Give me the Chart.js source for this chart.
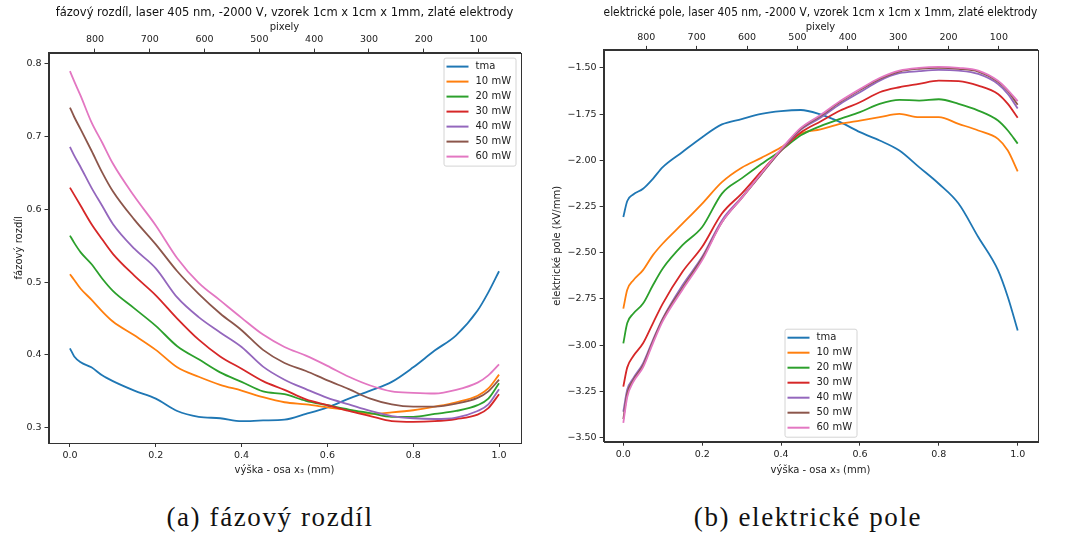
<!DOCTYPE html>
<html>
<head>
<meta charset="utf-8">
<script src="https://cdn.jsdelivr.net/npm/chart.js@4.4.0/dist/chart.umd.min.js"></script>
<style>
  html, body { margin: 0; padding: 0; background: #fff; }
  body { width: 1072px; height: 533px; position: relative; overflow: hidden; }
  canvas { position: absolute; top: 0; }
  #phase { left: 0; }
  #field { left: 536px; }
  .cap {
    position: absolute; top: 502px; line-height: 30px;
    font-family: "Liberation Serif", "Times New Roman", serif;
    font-size: 27px; letter-spacing: 1.6px; color: #111;
    white-space: nowrap; transform: translateX(-50%);
  }
</style>
</head>
<body>
<canvas id="phase" width="536" height="480"></canvas>
<canvas id="field" width="536" height="480"></canvas>
<div class="cap" style="left:270px">(a) fázový rozdíl</div>
<div class="cap" style="left:808px">(b) elektrické pole</div>
<script>
// height along x3 (mm)
var heights = [0, 0.01, 0.025, 0.05, 0.075, 0.1, 0.15, 0.2, 0.25, 0.3, 0.35, 0.4, 0.45,
  0.5, 0.55, 0.6, 0.65, 0.7, 0.75, 0.8, 0.85, 0.9, 0.95, 0.975, 1.0];

var seriesNames = ['tma', '10 mW', '20 mW', '30 mW', '40 mW', '50 mW', '60 mW'];
var seriesColors = ['#1f77b4', '#ff7f0e', '#2ca02c', '#d62728', '#9467bd', '#8c564b', '#e377c2'];

// fázový rozdíl
var phaseTma = [0.409, 0.398, 0.390, 0.383, 0.372, 0.364, 0.351, 0.340, 0.323, 0.315, 0.313, 0.309, 0.310,
  0.311, 0.319, 0.328, 0.340, 0.351, 0.363, 0.383, 0.406, 0.427, 0.461, 0.486, 0.515];
var phase10 = [0.511, 0.503, 0.491, 0.476, 0.460, 0.446, 0.427, 0.407, 0.383, 0.370, 0.359, 0.351, 0.342,
  0.335, 0.332, 0.328, 0.324, 0.319, 0.321, 0.324, 0.329, 0.335, 0.344, 0.354, 0.373];
var phase20 = [0.564, 0.554, 0.541, 0.525, 0.505, 0.488, 0.464, 0.440, 0.412, 0.394, 0.376, 0.363, 0.350,
  0.346, 0.337, 0.331, 0.325, 0.320, 0.315, 0.315, 0.319, 0.323, 0.331, 0.340, 0.361];
var phase30 = [0.630, 0.620, 0.605, 0.580, 0.559, 0.539, 0.509, 0.482, 0.450, 0.421, 0.398, 0.381, 0.364,
  0.352, 0.339, 0.331, 0.323, 0.316, 0.309, 0.308, 0.309, 0.312, 0.318, 0.327, 0.346];
var phase40 = [0.686, 0.674, 0.658, 0.630, 0.605, 0.580, 0.546, 0.519, 0.479, 0.452, 0.431, 0.411, 0.384,
  0.366, 0.353, 0.341, 0.332, 0.323, 0.316, 0.313, 0.312, 0.314, 0.323, 0.332, 0.353];
var phase50 = [0.740, 0.727, 0.710, 0.681, 0.651, 0.625, 0.586, 0.552, 0.515, 0.484, 0.457, 0.434, 0.407,
  0.389, 0.378, 0.365, 0.353, 0.340, 0.332, 0.329, 0.329, 0.333, 0.341, 0.350, 0.366];
var phase60 = [0.790, 0.776, 0.756, 0.720, 0.692, 0.663, 0.618, 0.578, 0.533, 0.499, 0.475, 0.451, 0.428,
  0.411, 0.399, 0.385, 0.370, 0.358, 0.350, 0.348, 0.347, 0.352, 0.362, 0.372, 0.387];

// elektrické pole (kV/mm)
var fieldTma = [-2.307, -2.22, -2.185, -2.154, -2.10, -2.037, -1.955, -1.875, -1.806, -1.777, -1.749, -1.734, -1.728,
  -1.752, -1.794, -1.848, -1.893, -1.947, -2.037, -2.127, -2.234, -2.415, -2.594, -2.739, -2.92];
var field10 = [-2.802, -2.70, -2.65, -2.594, -2.513, -2.45, -2.343, -2.234, -2.118, -2.04, -1.987, -1.93, -1.856,
  -1.833, -1.803, -1.785, -1.767, -1.749, -1.767, -1.767, -1.803, -1.839, -1.884, -1.947, -2.06];
var field20 = [-2.99, -2.88, -2.83, -2.775, -2.676, -2.585, -2.459, -2.361, -2.18, -2.098, -2.02, -1.947, -1.865,
  -1.815, -1.776, -1.74, -1.695, -1.673, -1.677, -1.670, -1.695, -1.731, -1.785, -1.839, -1.91];
var field30 = [-3.224, -3.12, -3.06, -2.99, -2.882, -2.775, -2.603, -2.468, -2.288, -2.18, -2.06, -1.947, -1.85,
  -1.79, -1.731, -1.686, -1.632, -1.605, -1.587, -1.569, -1.572, -1.596, -1.641, -1.695, -1.77];
var field40 = [-3.36, -3.24, -3.18, -3.098, -2.972, -2.855, -2.676, -2.522, -2.325, -2.20, -2.073, -1.947, -1.835,
  -1.77, -1.695, -1.632, -1.569, -1.529, -1.518, -1.511, -1.515, -1.533, -1.587, -1.641, -1.72];
var field50 = [-3.40, -3.26, -3.19, -3.11, -2.98, -2.86, -2.69, -2.53, -2.335, -2.205, -2.075, -1.945, -1.83,
  -1.76, -1.685, -1.62, -1.56, -1.52, -1.505, -1.50, -1.505, -1.52, -1.575, -1.625, -1.70];
var field60 = [-3.42, -3.28, -3.20, -3.12, -2.99, -2.87, -2.70, -2.54, -2.335, -2.205, -2.07, -1.94, -1.825,
  -1.755, -1.68, -1.615, -1.555, -1.515, -1.50, -1.495, -1.50, -1.515, -1.57, -1.62, -1.68];

var xTicks = [0, 0.2, 0.4, 0.6, 0.8, 1.0];
var pixelTicks = [100, 200, 300, 400, 500, 600, 700, 800];
var phaseTicks = [0.3, 0.4, 0.5, 0.6, 0.7, 0.8];
var fieldTicks = [-3.5, -3.25, -3.0, -2.75, -2.5, -2.25, -2.0, -1.75, -1.5];

Chart.defaults.font.family = "'DejaVu Sans', sans-serif";
Chart.defaults.font.size = 9.5;
Chart.defaults.color = '#222';

var INK = '#333';

// matplotlib-like frame + boxed legend inside the axes
var mplPlugin = {
  id: 'mpl',
  afterDatasetsDraw: function (chart, args, o) {
    var a = chart.chartArea, ctx = chart.ctx;
    ctx.save();
    ctx.strokeStyle = INK;
    ctx.lineWidth = 1;
    ctx.strokeRect(Math.round(a.left) + 0.5, Math.round(a.top) + 0.5,
      Math.round(a.right - a.left), Math.round(a.bottom - a.top));

    var ds = chart.data.datasets;
    var rowH = 15, w = 72, h = ds.length * rowH + 3;
    var x0, y0;
    if (o.where === 'upper right') { x0 = a.right - 5 - w; y0 = a.top + 5; }
    else { x0 = (a.left + a.right) / 2 - w / 2; y0 = a.bottom - 5 - h; }

    ctx.fillStyle = 'rgba(255,255,255,0.8)';
    ctx.strokeStyle = '#d4d4d4';
    ctx.beginPath();
    ctx.roundRect(x0 + 0.5, y0 + 0.5, w, h, 2);
    ctx.fill();
    ctx.stroke();

    ctx.font = "10px 'DejaVu Sans', sans-serif";
    ctx.textBaseline = 'middle';
    ctx.textAlign = 'left';
    ds.forEach(function (d, i) {
      var cy = y0 + 9 + i * rowH;
      ctx.strokeStyle = d.borderColor;
      ctx.lineWidth = 2;
      ctx.beginPath();
      ctx.moveTo(x0 + 3, cy);
      ctx.lineTo(x0 + 25, cy);
      ctx.stroke();
      ctx.fillStyle = '#222';
      ctx.fillText(d.label, x0 + 32, cy);
    });
    ctx.restore();
  }
};

function buildDatasets(list) {
  return list.map(function (vals, i) {
    return {
      label: seriesNames[i],
      data: heights.map(function (h, j) { return { x: h, y: vals[j] }; }),
      borderColor: seriesColors[i],
      backgroundColor: seriesColors[i],
      borderWidth: 1.8,
      pointRadius: 0,
      cubicInterpolationMode: 'monotone',
      order: list.length - i
    };
  });
}

function tickGrid() {
  return { display: true, drawOnChartArea: false, tickLength: 4, color: INK, lineWidth: 1 };
}

function fixed(key, size) {
  return function (s) { s[key] = size; };
}

function makeChart(id, cfg) {
  var ctx = document.getElementById(id).getContext('2d');
  return new Chart(ctx, {
    type: 'line',
    data: { datasets: buildDatasets(cfg.series) },
    options: {
      responsive: false,
      animation: false,
      layout: { padding: cfg.padding },
      plugins: {
        legend: { display: false },
        tooltip: { enabled: false },
        title: {
          display: true, text: cfg.title, fullSize: false,
          font: { size: 11.5, weight: 'normal' }, color: '#111',
          padding: { top: 6, bottom: 0 }
        },
        mpl: { where: cfg.legendAt }
      },
      scales: {
        x: {
          type: 'linear', position: 'bottom', min: -0.05, max: 1.05,
          afterBuildTicks: function (s) { s.ticks = xTicks.map(function (v) { return { value: v }; }); },
          afterFit: fixed('height', cfg.bottomH),
          ticks: { padding: 3, maxRotation: 0, callback: function (v) { return v.toFixed(1); } },
          grid: tickGrid(),
          border: { display: true, color: INK },
          title: { display: true, text: 'výška - osa x₃ (mm)', font: { size: 10 }, color: '#222' }
        },
        x2: {
          type: 'linear', axis: 'x', position: 'top', reverse: true,
          min: 23.5, max: 884.8,
          afterBuildTicks: function (s) { s.ticks = pixelTicks.map(function (v) { return { value: v }; }); },
          afterFit: fixed('height', cfg.topH),
          ticks: { padding: 3, maxRotation: 0, callback: function (v) { return String(v); } },
          grid: tickGrid(),
          border: { display: true, color: INK },
          title: { display: true, text: 'pixely', font: { size: 10 }, color: '#222', padding: { top: 2, bottom: 0 } }
        },
        y: {
          type: 'linear', position: 'left', min: cfg.yMin, max: cfg.yMax,
          afterBuildTicks: function (s) { s.ticks = cfg.yTicks.map(function (v) { return { value: v }; }); },
          afterFit: fixed('width', cfg.leftW),
          ticks: { padding: 3, callback: cfg.yFmt },
          grid: tickGrid(),
          border: { display: true, color: INK },
          title: { display: true, text: cfg.yTitle, font: { size: 10 }, color: '#222' }
        }
      }
    },
    plugins: [mplPlugin]
  });
}

makeChart('phase', {
  series: [phaseTma, phase10, phase20, phase30, phase40, phase50, phase60],
  title: 'fázový rozdíl, laser 405 nm, -2000 V, vzorek 1cm x 1cm x 1mm, zlaté elektrody',
  yTitle: 'fázový rozdíl',
  yMin: 0.279, yMax: 0.8155,
  yTicks: phaseTicks,
  yFmt: function (v) { return v.toFixed(1); },
  padding: { left: 9, right: 15.5, top: 0, bottom: 0 },
  leftW: 39.5, topH: 32.8, bottomH: 37,
  legendAt: 'upper right'
});

makeChart('field', {
  series: [fieldTma, field10, field20, field30, field40, field50, field60],
  title: 'elektrické pole, laser 405 nm, -2000 V, vzorek 1cm x 1cm x 1mm, zlaté elektrody',
  yTitle: 'elektrické pole (kV/mm)',
  yMin: -3.522, yMax: -1.403,
  yTicks: fieldTicks,
  yFmt: function (v) { return (v < 0 ? '\u2212' : '') + Math.abs(v).toFixed(2); },
  padding: { left: 11, right: 34.6, top: 0, bottom: 0 },
  leftW: 56.6, topH: 30.1, bottomH: 38.3,
  legendAt: 'lower center'
});
</script>
</body>
</html>
